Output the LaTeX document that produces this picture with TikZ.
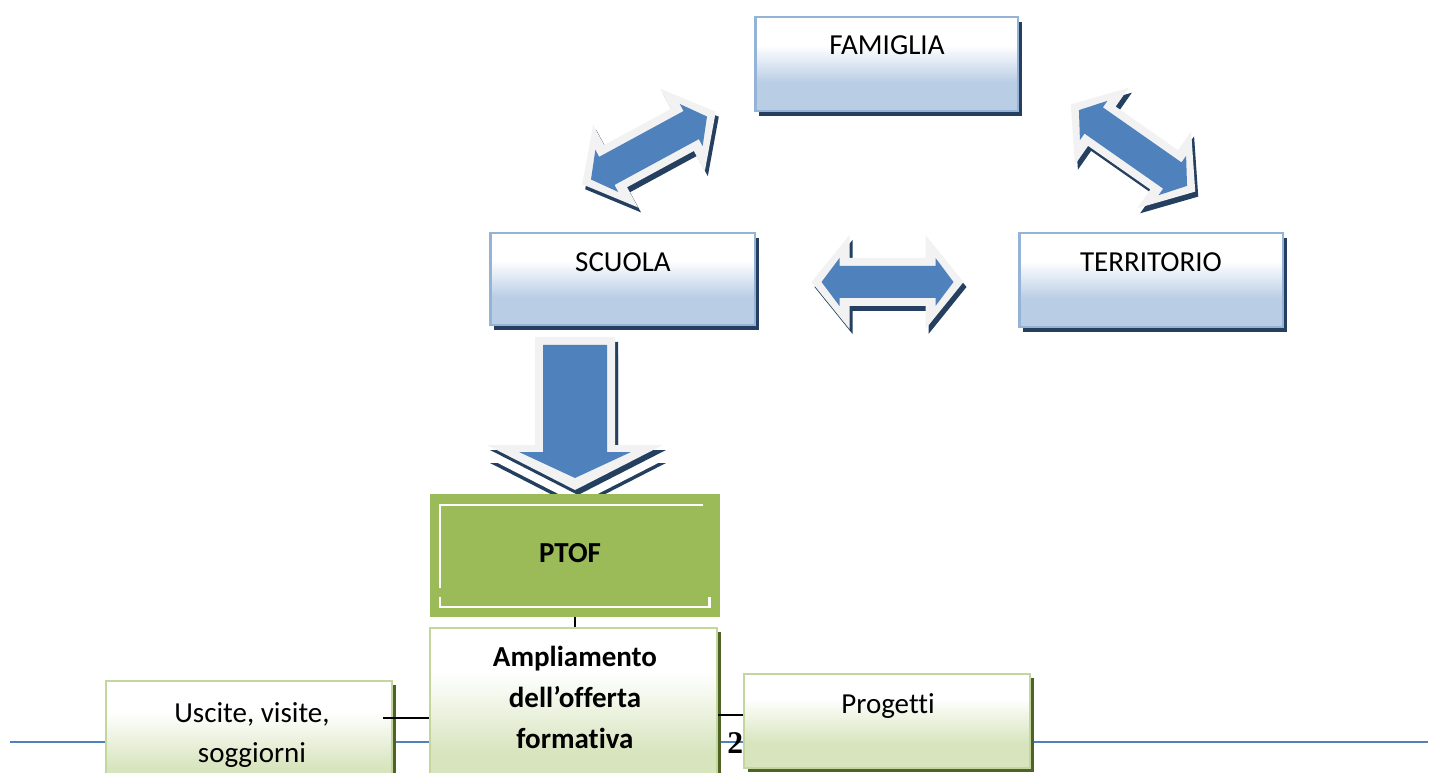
\documentclass[tikz,border=0pt]{standalone}
\usepackage{fontspec}
\setmainfont{Carlito}[Ligatures=NoCommon]
\newfontfamily\pagenumfont{Liberation Serif}
\usetikzlibrary{shadows}

\definecolor{arrowblue}{HTML}{4F81BD}
\definecolor{rimgray}{HTML}{F2F2F2}
\definecolor{navyshadow}{HTML}{243F60}
\definecolor{boxblueedge}{HTML}{95B3D7}
\definecolor{boxbluefill}{HTML}{B9CDE5}
\definecolor{ptofgreen}{HTML}{9BBB59}
\definecolor{boxgreenedge}{HTML}{C3D69B}
\definecolor{boxgreenfill}{HTML}{D7E4BD}
\definecolor{greenshadow}{HTML}{4F6228}
\definecolor{ruleblue}{HTML}{4F81BD}

% white top fading into a pale tint towards the bottom
\pgfdeclareverticalshading{blueface}{100bp}{color(0bp)=(boxbluefill); color(40bp)=(boxbluefill); color(60bp)=(white); color(100bp)=(white)}
\pgfdeclareverticalshading{greenface}{100bp}{color(0bp)=(boxgreenfill); color(38bp)=(boxgreenfill); color(62bp)=(white); color(100bp)=(white)}

\tikzset{
  bluebox/.style={rectangle, inner sep=0pt, draw=boxblueedge, line width=1.4pt, shading=blueface,
    drop shadow={shadow xshift=0.08cm, shadow yshift=-0.1cm, fill=navyshadow, opacity=1}},
  greenbox/.style={rectangle, inner sep=0pt, draw=boxgreenedge, line width=1.3pt, shading=greenface,
    drop shadow={shadow xshift=0.08cm, shadow yshift=-0.08cm, fill=greenshadow, opacity=1}},
  boxtext/.style={inner sep=0pt, anchor=base, font=\fontsize{16.5pt}{20pt}\selectfont},
  boldtext/.style={boxtext, font=\fontsize{16.5pt}{20pt}\selectfont\bfseries},
  link/.style={draw=black, line width=0.9pt},
  frameline/.style={draw=white, line width=1.7pt},
}

% two-headed block arrow: centre (#1,#2), turned by #3 degrees
\newcommand\twowayarrow[3]{%
  \begin{scope}[shift={(#1+3,#2+5)},rotate=#3]
    \fill[navyshadow] (-76,0) -- (-38,-47) -- (-38,-24) -- (38,-24) -- (38,-47) -- (76,0)
      -- (38,47) -- (38,24) -- (-38,24) -- (-38,47) -- cycle;
  \end{scope}
  \begin{scope}[shift={(#1,#2)},rotate=#3]
    \fill[rimgray] (-76,0) -- (-38,-47) -- (-38,-24) -- (38,-24) -- (38,-47) -- (76,0)
      -- (38,47) -- (38,24) -- (-38,24) -- (-38,47) -- cycle;
    \fill[arrowblue] (-66,0) -- (-48,-24) -- (-48,-16) -- (48,-16) -- (48,-24) -- (66,0)
      -- (48,24) -- (48,16) -- (-48,16) -- (-48,24) -- cycle;
  \end{scope}}

% outline of the downward block arrow
\newcommand\downarrowrim[1]{%
  \fill[#1] (535,337) -- (615,337) -- (615,445) -- (663,445) -- (575,490) -- (487,445) -- (535,445) -- cycle;}

\begin{document}
\begin{tikzpicture}[x=0.02cm, y=-0.02cm]
  \useasboundingbox (0,0) rectangle (1430,773);
  \clip (0,0) rectangle (1430,773);

  % footer rule
  \draw[ruleblue, line width=1.5pt] (10,742) -- (1428,742);

  % block arrows between the three partners
  \twowayarrow{649}{148}{28.5}
  \twowayarrow{1133}{148}{-35}
  \twowayarrow{887.5}{282}{0}

  % downward arrow from SCUOLA to PTOF
  \begin{scope}[shift={(3,18)}] \downarrowrim{navyshadow} \end{scope}
  \begin{scope}[shift={(3,14)}] \downarrowrim{white} \end{scope}
  \begin{scope}[shift={(3,5)}] \downarrowrim{navyshadow} \end{scope}
  \downarrowrim{rimgray}
  \fill[arrowblue] (543,345) -- (607,345) -- (607,452) -- (631,452) -- (575,478) -- (519,452) -- (543,452) -- cycle;

  % top three boxes
  \node[bluebox, minimum width=5.25cm, minimum height=1.87cm] (fam) at (886.5,64) {};
  \node[bluebox, minimum width=5.29cm, minimum height=1.83cm] (scu) at (622.5,279) {};
  \node[bluebox, minimum width=5.27cm, minimum height=1.87cm] (ter) at (1151,280) {};
  \node[boxtext] (famt) at (887,55) {FAMIGLIA};
  \node[boxtext] (scut) at (623,272) {SCUOLA};
  \node[boxtext] (tert) at (1151,272) {TERRITORIO};

  % PTOF
  \node[rectangle, inner sep=0pt, fill=ptofgreen, minimum width=5.8cm, minimum height=2.46cm] (ptof) at (575,555.5) {};
  \draw[frameline] (440,588) -- (440,505) -- (703,505);
  \draw[frameline] (440,597) -- (440,607) -- (709,607) -- (709,597);
  \node[boldtext] (ptoft) at (570,562) {PTOF};

  % lower boxes
  \node[greenbox, minimum width=5.74cm, minimum height=3.42cm] (amp) at (573.5,713.5) {};
  \node[greenbox, minimum width=5.72cm, minimum height=2.36cm] (usc) at (249,740) {};
  \node[anchor=base west, inner sep=0pt, font=\pagenumfont\bfseries\fontsize{18pt}{20pt}\selectfont] (pagenum) at (727,753) {2};
  \node[greenbox, minimum width=5.72cm, minimum height=1.88cm] (pro) at (887,721) {};

  \node[boldtext] (amp1) at (575,666) {Ampliamento};
  \node[boldtext] (amp2) at (575,707) {dell’offerta};
  \node[boldtext] (amp3) at (575,748) {formativa};
  \node[boxtext] (usc1) at (252,722) {Uscite, visite,};
  \node[boxtext] (usc2) at (252,762) {soggiorni};
  \node[boxtext] (prot) at (888,713) {Progetti};

  % connectors
  \draw[link] (ptof.south) -- (ptof.south |- amp.north);
  \coordinate (uscjoin) at (383,718);
  \draw[link] (uscjoin) -- (uscjoin -| amp.west);
  \coordinate (ampjoin) at (718,715);
  \draw[link] (ampjoin) -- (ampjoin -| pro.west);
\end{tikzpicture}
\end{document}
